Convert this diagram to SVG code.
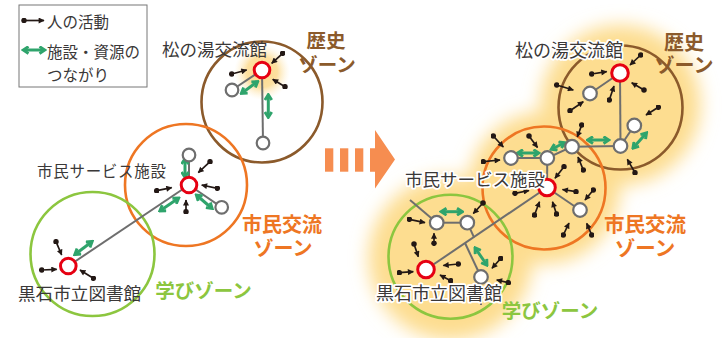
<svg xmlns="http://www.w3.org/2000/svg" width="722" height="338" viewBox="0 0 722 338">
<defs>
<style>
.zb{fill:none;stroke:#8B5A2B;stroke-width:2.6}
.zo{fill:none;stroke:#EE7623;stroke-width:2.6}
.zg{fill:none;stroke:#8CC63F;stroke-width:2.6}
.ln{stroke:#6E6E6E;stroke-width:2;fill:none}
.rn{fill:#fff;stroke:#E60012;stroke-width:3}
.gn{fill:#fff;stroke:#6E6E6E;stroke-width:2.2}
.ba{stroke:#231815;stroke-width:1.7;fill:none;marker-start:url(#dot);marker-end:url(#ah)}
.ga{stroke:#2FA46C;stroke-width:3;fill:none;marker-start:url(#gh);marker-end:url(#gh)}
.t{font-family:"Noto Sans CJK JP","Noto Sans",sans-serif;fill:#3A3838}
.h{stroke:#fff;stroke-width:3.5;paint-order:stroke;stroke-linejoin:round}
.zl{font-family:"Noto Sans CJK JP","Noto Sans",sans-serif;font-weight:bold;text-anchor:middle}
</style>
<marker id="ah" viewBox="0 0 10 10" refX="9" refY="5" markerWidth="7" markerHeight="6" orient="auto" markerUnits="userSpaceOnUse"><path d="M0,0 L10,5 L0,10 z" fill="#231815"/></marker>
<marker id="dot" viewBox="0 0 10 10" refX="5" refY="5" markerWidth="5.5" markerHeight="5.5" markerUnits="userSpaceOnUse"><circle cx="5" cy="5" r="5" fill="#231815"/></marker>
<marker id="gh" viewBox="0 0 10 10" refX="7" refY="5" markerWidth="9" markerHeight="9" orient="auto-start-reverse" markerUnits="userSpaceOnUse"><path d="M2,1.2 L8,5 L2,8.8" fill="none" stroke="#2FA46C" stroke-width="3.2"/></marker>
<radialGradient id="sg"><stop offset="0" stop-color="#FDD98A"/><stop offset="0.55" stop-color="#FDE0A0"/><stop offset="1" stop-color="#FFF3D6" stop-opacity="0"/></radialGradient>
<filter id="blur" x="-30%" y="-30%" width="160%" height="160%"><feGaussianBlur stdDeviation="9"/></filter>
</defs>
<rect width="722" height="338" fill="#fff"/>

<g id="legend">
<rect x="19" y="5" width="128" height="82" fill="#fff" stroke="#777" stroke-width="1"/>
<line class="ba" x1="24" y1="20.5" x2="44" y2="20.5"/>
<line class="ga" x1="24" y1="50" x2="44" y2="50"/>
<text class="t" x="47" y="27.5" font-size="15.5">人の活動</text>
<text class="t" x="47" y="57.5" font-size="15.5">施設・資源の</text>
<text class="t" x="47" y="80.5" font-size="15.5">つながり</text>
</g>

<g id="left-glow"><circle cx="262" cy="72" r="28" fill="url(#sg)"/></g>

<g id="right-glow" filter="url(#blur)" fill="#FDDD90">
<circle cx="620.5" cy="105" r="80"/>
<circle cx="544" cy="188" r="76"/>
<circle cx="450.5" cy="258" r="82"/>
</g>

<g id="zones">
<circle id="zone-history-l" class="zb" cx="262" cy="102" r="60.5"/>
<circle id="zone-civic-l" class="zo" cx="186" cy="185" r="61"/>
<circle id="zone-learn-l" class="zg" cx="92.5" cy="254" r="62"/>
<circle id="zone-history-r" class="zb" cx="620.5" cy="107.5" r="62"/>
<circle id="zone-civic-r" class="zo" cx="544" cy="188" r="61.5"/>
<circle id="zone-learn-r" class="zg" cx="450.5" cy="256.7" r="62"/>
</g>

<g id="connectors">
<line class="ln" x1="262" y1="70" x2="232" y2="90"/>
<line class="ln" x1="262" y1="70" x2="263" y2="143"/>
<line class="ln" x1="189" y1="185" x2="189" y2="155"/>
<line class="ln" x1="189" y1="185" x2="221.7" y2="207.3"/>
<line class="ln" x1="189" y1="185" x2="68.3" y2="266"/>
<line class="ln" x1="620" y1="73" x2="590" y2="93.5"/>
<line class="ln" x1="620" y1="73" x2="620.5" y2="146"/>
<line class="ln" x1="620.5" y1="146" x2="634.3" y2="125.5"/>
<line class="ln" x1="620.5" y1="146" x2="572" y2="146.7"/>
<line class="ln" x1="572" y1="146.7" x2="547.3" y2="158"/>
<line class="ln" x1="547.3" y1="158" x2="511" y2="158"/>
<line class="ln" x1="547.3" y1="158" x2="547" y2="187.5"/>
<line class="ln" x1="547" y1="187.5" x2="580" y2="210"/>
<line class="ln" x1="547" y1="187.5" x2="426" y2="269.5"/>
<line class="ln" x1="436.7" y1="222.7" x2="467.3" y2="222.7"/>
<line class="ln" x1="436.7" y1="222.7" x2="410" y2="200"/>
<line class="ln" x1="467.3" y1="222.7" x2="474" y2="237.3"/>
<line class="ln" x1="465" y1="243" x2="481" y2="277"/>
<line class="ln" x1="481" y1="277" x2="481" y2="305"/>

<line class="ga" x1="242" y1="93" x2="257" y2="82"/>
<line class="ga" x1="268.3" y1="95.5" x2="268.3" y2="116.5"/>
<line class="ga" x1="185" y1="159.5" x2="185" y2="176.5"/>
<line class="ga" x1="160.5" y1="210.5" x2="178" y2="198.5"/>
<line class="ga" x1="197" y1="195.5" x2="211.5" y2="208"/>
<line class="ga" x1="75.5" y1="254" x2="91.5" y2="242"/>
<line class="ga" x1="518.5" y1="153" x2="538" y2="153"/>
<line class="ga" x1="552" y1="149" x2="564" y2="143"/>
<line class="ga" x1="588.5" y1="140" x2="608" y2="140"/>
<line class="ga" x1="633.5" y1="147.5" x2="646" y2="133.5"/>
<line class="ga" x1="442" y1="211.7" x2="461.5" y2="211.7"/>
<line class="ga" x1="475.5" y1="248.5" x2="486.5" y2="264.5"/>

<line class="ba" x1="282.7" y1="53.3" x2="271.7" y2="63.3"/>
<line class="ba" x1="231.7" y1="74" x2="246.7" y2="70"/>
<line class="ba" x1="285" y1="86.7" x2="272.7" y2="79.3"/>
<line class="ba" x1="210" y1="161.7" x2="198.3" y2="172.7"/>
<line class="ba" x1="217.3" y1="188.3" x2="201.7" y2="185"/>
<line class="ba" x1="156.7" y1="190.7" x2="171.7" y2="187.7"/>
<line class="ba" x1="186" y1="211.7" x2="186" y2="200"/>
<line class="ba" x1="56" y1="241.7" x2="61.7" y2="255"/>
<line class="ba" x1="41.7" y1="270" x2="56.7" y2="269.3"/>
<line class="ba" x1="93.3" y1="278.3" x2="80" y2="270"/>

<line class="ba" x1="640.7" y1="55" x2="630" y2="65"/>
<line class="ba" x1="591.7" y1="74" x2="606.7" y2="71.7"/>
<line class="ba" x1="644" y1="90" x2="631.7" y2="82.7"/>
<line class="ba" x1="556.7" y1="85" x2="573.3" y2="90"/>
<line class="ba" x1="609.3" y1="100" x2="614" y2="86"/>
<line class="ba" x1="570" y1="110.7" x2="583.3" y2="101.7"/>
<line class="ba" x1="658.3" y1="107.3" x2="646" y2="115"/>
<line class="ba" x1="581.7" y1="125" x2="577.3" y2="137"/>
<line class="ba" x1="635" y1="172.7" x2="627.3" y2="159.3"/>
<line class="ba" x1="583.3" y1="170" x2="578" y2="157"/>
<line class="ba" x1="493.3" y1="136" x2="503.3" y2="147"/>
<line class="ba" x1="529" y1="136" x2="537.5" y2="147.5"/>
<line class="ba" x1="483.3" y1="161.7" x2="500" y2="160"/>
<line class="ba" x1="564" y1="166.7" x2="555" y2="178.3"/>
<line class="ba" x1="515" y1="193.3" x2="529" y2="190.5"/>
<line class="ba" x1="576" y1="191.7" x2="562.5" y2="189.5"/>
<line class="ba" x1="593.3" y1="190" x2="585" y2="200"/>
<line class="ba" x1="534.5" y1="215" x2="539.5" y2="201.7"/>
<line class="ba" x1="556.5" y1="214" x2="552.5" y2="201.7"/>
<line class="ba" x1="563.3" y1="235" x2="569" y2="223"/>
<line class="ba" x1="591.7" y1="235" x2="586.7" y2="223.3"/>
<line class="ba" x1="483" y1="203" x2="473.3" y2="213.5"/>
<line class="ba" x1="409.3" y1="219.3" x2="425" y2="222.7"/>
<line class="ba" x1="434" y1="243.3" x2="434" y2="233.3"/>
<line class="ba" x1="414" y1="244" x2="418.3" y2="256.7"/>
<line class="ba" x1="399.3" y1="272.7" x2="413.3" y2="271.7"/>
<line class="ba" x1="458.3" y1="264" x2="443.3" y2="265.5"/>
<line class="ba" x1="450.7" y1="280.7" x2="440" y2="275"/>
<line class="ba" x1="500.7" y1="258.5" x2="492" y2="268.3"/>
<line class="ba" x1="508.3" y1="282.7" x2="496.7" y2="280"/>
</g>

<g id="node-matsunoyu-l"><circle class="rn" cx="262" cy="70" r="7.8"/></g>
<g id="node-l-g1"><circle class="gn" cx="232" cy="90" r="6.3"/></g>
<g id="node-l-g2"><circle class="gn" cx="263" cy="143" r="6.3"/></g>
<g id="node-shimin-l"><circle class="rn" cx="189" cy="185" r="7.8"/></g>
<g id="node-l-g3"><circle class="gn" cx="189" cy="155" r="6.3"/></g>
<g id="node-l-g4"><circle class="gn" cx="221.7" cy="207.3" r="6.3"/></g>
<g id="node-library-l"><circle class="rn" cx="68.3" cy="266" r="7.8"/></g>

<g id="node-matsunoyu-r"><circle class="rn" cx="620" cy="73" r="8.3"/></g>
<g id="node-shimin-r"><circle class="rn" cx="547" cy="187.5" r="8.3"/></g>
<g id="node-library-r"><circle class="rn" cx="426" cy="269.5" r="8.3"/></g>
<g id="node-r-g1"><circle class="gn" cx="590" cy="93.5" r="6.8"/></g>
<g id="node-r-g2"><circle class="gn" cx="634.3" cy="125.5" r="6.8"/></g>
<g id="node-r-g3"><circle class="gn" cx="620.5" cy="146" r="6.8"/></g>
<g id="node-r-g4"><circle class="gn" cx="572" cy="146.7" r="6.8"/></g>
<g id="node-r-g5"><circle class="gn" cx="547.3" cy="158" r="6.8"/></g>
<g id="node-r-g6"><circle class="gn" cx="511" cy="158" r="6.8"/></g>
<g id="node-r-g7"><circle class="gn" cx="580" cy="210" r="6.8"/></g>
<g id="node-r-g8"><circle class="gn" cx="436.7" cy="222.7" r="6.8"/></g>
<g id="node-r-g9"><circle class="gn" cx="467.3" cy="222.7" r="6.8"/></g>
<g id="node-r-g10"><circle class="gn" cx="481" cy="277" r="6.8"/></g>

<g id="transition-arrow" fill="#F68D50">
<rect x="325" y="148.3" width="8.3" height="23.4"/>
<rect x="340" y="148.3" width="8.3" height="23.4"/>
<rect x="355" y="148.3" width="8.3" height="23.4"/>
<polygon points="370,148.3 375,148.3 375,130 395,159.5 375,188.5 375,171.7 370,171.7"/>
</g>

<g id="labels">
<text class="t" x="162" y="56" font-size="17.5">松の湯交流館</text>
<text class="t" x="37" y="176.5" font-size="15.5" textLength="129">市民サービス施設</text>
<text class="t" x="18" y="300" font-size="17.6">黒石市立図書館</text>
<text class="t h" x="515" y="57" font-size="18">松の湯交流館</text>
<text class="t h" x="405" y="185.5" font-size="17.5">市民サービス施設</text>
<text class="t h" x="376" y="300" font-size="18">黒石市立図書館</text>

<text class="zl" fill="#8B5A2B" font-size="19.5"><tspan x="326" y="48">歴史</tspan><tspan x="327" y="72">ゾーン</tspan></text>
<text class="zl" fill="#EE7623" font-size="20"><tspan x="282" y="232">市民交流</tspan><tspan x="283" y="256">ゾーン</tspan></text>
<text class="zl" fill="#8CC63F" font-size="19.5" x="203.5" y="298">学びゾーン</text>
<text class="zl" fill="#8B5A2B" font-size="20"><tspan x="684" y="50">歴史</tspan><tspan x="684" y="73">ゾーン</tspan></text>
<text class="zl" fill="#EE7623" font-size="20.5"><tspan x="645" y="232">市民交流</tspan><tspan x="645" y="256">ゾーン</tspan></text>
<text class="zl" fill="#8CC63F" font-size="19.5" x="550" y="318">学びゾーン</text>
</g>
</svg>
